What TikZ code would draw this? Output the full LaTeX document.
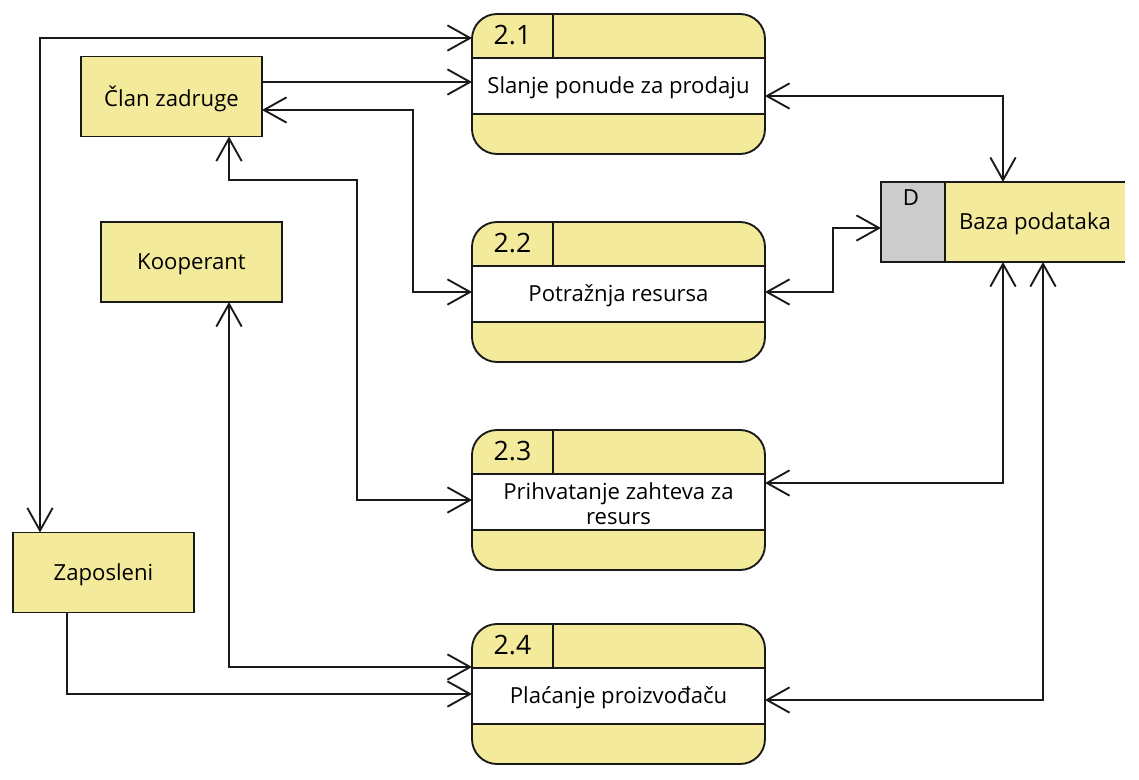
\documentclass[tikz,border=0pt]{standalone}
\usepackage{fontspec}
\setmainfont{Open Sans}
\usetikzlibrary{arrows.meta}
\definecolor{dfdyellow}{RGB}{244,234,156}
\definecolor{dfdgray}{RGB}{204,204,204}
\tikzset{
  ln/.style={line width=1.4pt, draw=black!90},
  flow/.style={ln, >={Straight Barb[length=17pt,width=19pt]}},
  proc/.style={rectangle, rounded corners=18.75pt, fill=dfdyellow, draw=none,
    minimum width=219.75pt, minimum height=105pt, inner sep=0pt, outer sep=0pt},
  entity/.style={rectangle, fill=dfdyellow, ln, minimum width=135.75pt,
    minimum height=60pt, inner sep=0pt, outer sep=0pt, text depth=0pt,
    font=\fontsize{16.6}{19}\selectfont},
  store/.style={rectangle, fill=dfdyellow, draw=none, minimum width=183pt,
    minimum height=60pt, inner sep=0pt, outer sep=0pt},
  numtext/.style={font=\fontsize{20}{23}\selectfont, inner sep=0pt},
  ptext/.style={font=\fontsize{16.6}{18.75}\selectfont, align=center, inner sep=0pt, yshift=-1.5pt},
}
\newcommand\procbox[4]{%
  \node[proc] (#1) at (618.5,#2) {};
  \fill[white] ([yshift=-33pt]#1.north west) rectangle ([yshift=-75pt]#1.north east);
  \draw[ln] ([yshift=-33pt]#1.north west) -- ([yshift=-33pt]#1.north east);
  \draw[ln] ([yshift=-75pt]#1.north west) -- ([yshift=-75pt]#1.north east);
  \draw[ln] ([xshift=60.75pt]#1.north west) -- ([xshift=60.75pt,yshift=-33pt]#1.north west);
  \draw[ln, rounded corners=18.75pt] (#1.north west) rectangle (#1.south east);
  \node[numtext] (#1n) at ([xshift=30.4pt,yshift=-15.5pt]#1.north west) {#3};
  \node[ptext] (#1t) at ([yshift=-54pt]#1.north) {#4};
}
\begin{document}
\begin{tikzpicture}[x=0.75pt,y=-0.75pt]
\useasboundingbox (0,0) rectangle (1139,779);

% processes
\procbox{p1}{84}{2.1}{Slanje ponude za prodaju}
\procbox{p2}{292}{2.2}{Potražnja resursa}
\procbox{p3}{500}{2.3}{Prihvatanje zahteva za\\resurs}
\procbox{p4}{694}{2.4}{Plaćanje proizvođaču}

% external entities
\node[entity] (e1) at (171.5,96.5) {Član zadruge};
\node[entity] (e2) at (191.5,262) {Kooperant};
\node[entity] (e3) at (103.5,572.5) {Zaposleni};

% data store
\node[store] (db) at (1003,222) {};
\fill[dfdgray] (db.north west) rectangle ([xshift=48pt]db.south west);
\draw[ln] (db.north east) -- (db.north west) -- (db.south west) -- (db.south east);
\draw[ln] ([xshift=48pt]db.north west) -- ([xshift=48pt]db.south west);
\node[ptext] (dbd) at ([xshift=22.5pt,yshift=-10pt]db.north west) {D};
\node[ptext] (dbt) at (1035,222) {Baza podataka};

% flows
\draw[flow,<->] (p1.west |- 0,38) -| (e3.north -| 40,0);
\draw[flow,->] (e1.east |- 0,82) -- (p1.west |- 0,82);
\draw[flow,<->] (p1.east |- 0,96) -| (db.north -| 1003,0);
\draw[flow,<->] (e1.east |- 0,110) -- (413,110) |- (p2.west |- 0,292);
\draw[flow,<->] (e1.south -| 229,0) -- (229,180) -- (357,180) |- (p3.west |- 0,500);
\draw[flow,<->] (p2.east |- 0,292) -- (833,292) |- (db.west |- 0,228);
\draw[flow,<->] (p3.east |- 0,483) -| (db.south -| 1003,0);
\draw[flow,<->] (p4.east |- 0,700) -| (db.south -| 1043,0);
\draw[flow,<->] (e2.south -| 229,0) |- (p4.west |- 0,667);
\draw[flow,->] (e3.south -| 67,0) |- (p4.west |- 0,694);
\end{tikzpicture}
\end{document}
